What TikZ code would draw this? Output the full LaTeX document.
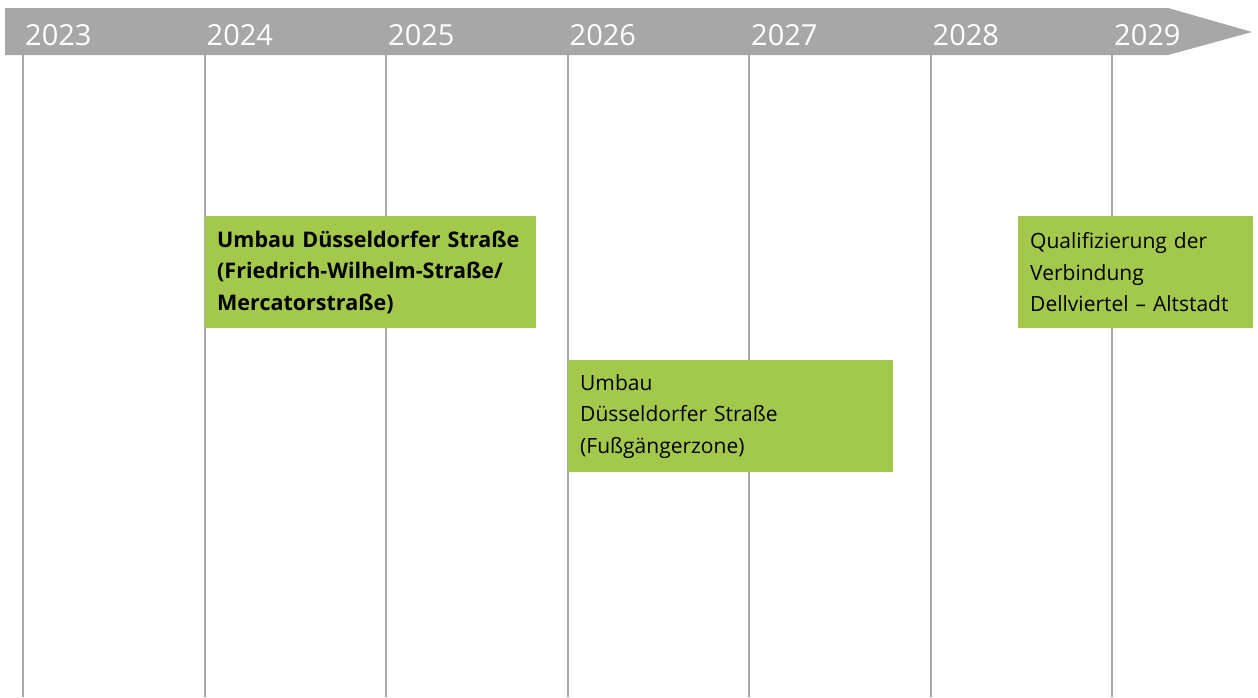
\documentclass[tikz,border=0pt]{standalone}
\usepackage{fontspec}
\setmainfont{Open Sans}
\usetikzlibrary{positioning}
\definecolor{bargray}{HTML}{A7A7A7}
\definecolor{phasegreen}{HTML}{A3C84B}
\tikzset{
  yr/.style={anchor=base west, inner sep=0pt, text=white, font=\fontsize{29}{30}\selectfont},
  grid/.style={draw=bargray, line width=2pt},
  phase/.style={fill=phasegreen, anchor=north west, minimum height=112pt, inner xsep=12pt, inner ysep=0pt, align=left, font=\fontsize{21}{31.5}\selectfont},
  phasebold/.style={phase, font=\fontsize{21.5}{31.5}\selectfont\bfseries},
}

\begin{document}
\begin{tikzpicture}[x=1pt, y=-1pt]
  \useasboundingbox (0,0) rectangle (1258,697);
  % time bar
  \fill[bargray] (5,8) -- (1168,8) -- (1252,32) -- (1168,55) -- (5,55) -- cycle;
  \foreach \yr [count=\i from 0] in {2023,...,2029} {
    \coordinate (t\yr) at (23+181.5*\i,55);
    \coordinate (b\yr) at (23+181.5*\i,697);
    \draw[grid] (t\yr) -- (b\yr);
    \node[yr] (l\yr) at (25+181.5*\i,45) {\yr};
  }
  % phases
  \node[phasebold, text width=307pt] (umbauA) at (205,216)
    {Umbau Düsseldorfer Straße\\(Friedrich-Wilhelm-Straße/\\Mercatorstraße)};
  \node[phase, text width=301pt] (umbauB) at (568,360)
    {Umbau\\Düsseldorfer Straße\\(Fußgängerzone)};
  \node[phase, text width=211pt] (quali) at (1018,216)
    {Qualifizierung der\\Verbindung\\Dellviertel – Altstadt};
\end{tikzpicture}
\end{document}
